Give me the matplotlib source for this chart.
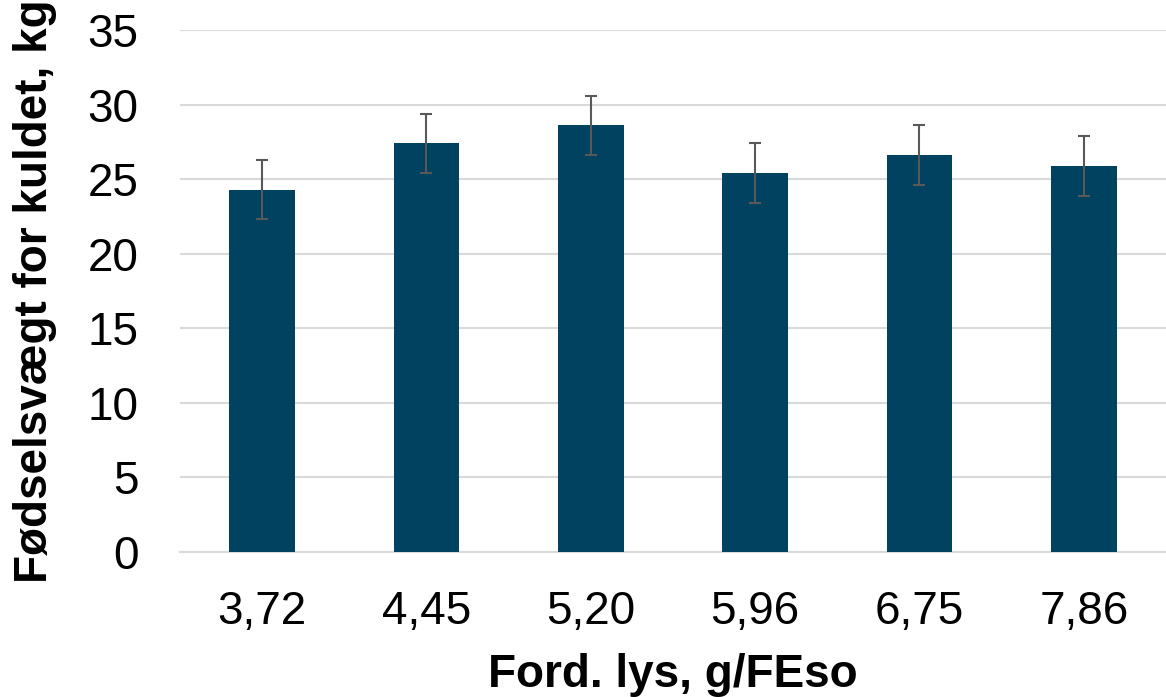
import matplotlib.pyplot as plt
import numpy as np

plt.rcParams['font.family'] = ['Liberation Sans', 'DejaVu Sans']

categories = ["3,72", "4,45", "5,20", "5,96", "6,75", "7,86"]
weights = [24.3, 27.4, 28.6, 25.4, 26.6, 25.9]
errors = [2.0, 2.0, 2.0, 2.0, 2.0, 2.0]

fig = plt.figure(figsize=(11.66, 6.97), dpi=100)
ax = fig.add_axes([180/1166, 145/697, 986/1166, 522/697])

x = np.arange(len(categories))
ax.bar(x, weights, 0.4, color='#00425F', zorder=3,
       yerr=errors, error_kw=dict(ecolor='#595959', elinewidth=1.5, capsize=4.5, capthick=1.5))

ax.set_xlim(-0.5, len(categories) - 0.5)
ax.set_ylim(0, 35)
ax.set_yticks(range(0, 36, 5))
ax.set_xticks(x)
ax.set_xticklabels(categories)
ax.yaxis.grid(True, color='#D9D9D9', linewidth=1.5, zorder=0)
for s in ['top', 'right', 'left']:
    ax.spines[s].set_visible(False)
ax.spines['bottom'].set_color('#D9D9D9')
ax.spines['bottom'].set_linewidth(1.5)
ax.tick_params(axis='both', length=0, labelsize=33, colors='black')
ax.tick_params(axis='x', pad=27)
ax.tick_params(axis='y', pad=30)

ax.set_xlabel("Ford. lys, g/FEso", fontsize=33, fontweight='bold', labelpad=14)
ax.set_ylabel("Fødselsvægt for kuldet, kg", fontsize=33, fontweight='bold', labelpad=22)

fig.savefig("out.png", dpi=100)
